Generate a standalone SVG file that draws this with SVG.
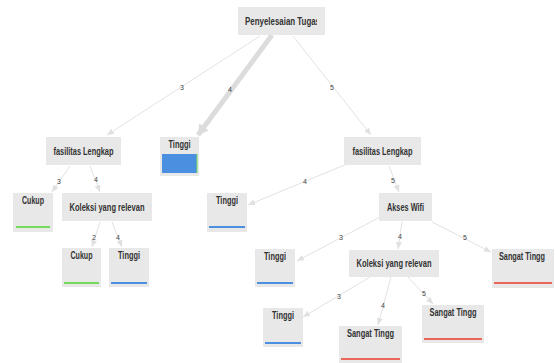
<svg xmlns="http://www.w3.org/2000/svg" width="555" height="363" viewBox="0 0 555 363">
<style>
.box{fill:#e8e8e8}
.t{font-family:"Liberation Sans",Arial,sans-serif;font-size:10px;font-weight:bold;fill:#333;text-anchor:middle}
.el{font-family:"Liberation Sans",Arial,sans-serif;font-size:7px;fill:#444;text-anchor:middle}
.e{stroke:#e2e2e2;stroke-width:1;fill:none}
.ethick{stroke:#dcdcdc;stroke-width:5;fill:none}
.g{stroke:#74dc5a;stroke-width:2}
.b{stroke:#4a8fe0;stroke-width:2}
.r{stroke:#e8665a;stroke-width:2}
</style>
<defs>
<marker id="ah" markerUnits="userSpaceOnUse" markerWidth="8" markerHeight="8" refX="7" refY="4" orient="auto">
<path d="M0,1 L7,4 L0,7 Z" fill="#e0e0e0"/>
</marker>
<marker id="ahT" markerUnits="userSpaceOnUse" markerWidth="12" markerHeight="12" refX="10" refY="6" orient="auto">
<path d="M0,0 L10,6 L0,12 Z" fill="#dcdcdc"/>
</marker>
<clipPath id="rootclip"><rect x="238" y="7" width="79" height="28"/></clipPath>
</defs>
<g id="connectors">
<line class="e" x1="260" y1="36" x2="107" y2="135" marker-end="url(#ah)"/>
<text class="el" x="182" y="90">3</text>
<line class="ethick" x1="272" y1="35" x2="198" y2="135" marker-end="url(#ahT)"/>
<text class="el" x="230" y="92">4</text>
<line class="e" x1="293" y1="36" x2="371" y2="135" marker-end="url(#ah)"/>
<text class="el" x="332" y="90">5</text>
<line class="e" x1="70" y1="166" x2="52" y2="192" marker-end="url(#ah)"/>
<text class="el" x="59" y="184">3</text>
<line class="e" x1="90" y1="166" x2="100" y2="192" marker-end="url(#ah)"/>
<text class="el" x="96" y="182">4</text>
<line class="e" x1="100" y1="222" x2="92" y2="247" marker-end="url(#ah)"/>
<text class="el" x="94" y="240">2</text>
<line class="e" x1="112" y1="222" x2="122" y2="247" marker-end="url(#ah)"/>
<text class="el" x="118" y="240">4</text>
<line class="e" x1="347" y1="164" x2="248" y2="205" marker-end="url(#ah)"/>
<text class="el" x="305" y="184">4</text>
<line class="e" x1="389" y1="166" x2="399" y2="192" marker-end="url(#ah)"/>
<text class="el" x="393" y="183">5</text>
<line class="e" x1="380" y1="217" x2="297" y2="261" marker-end="url(#ah)"/>
<text class="el" x="341" y="240">3</text>
<line class="e" x1="402" y1="222" x2="398" y2="249" marker-end="url(#ah)"/>
<text class="el" x="400" y="239">4</text>
<line class="e" x1="432" y1="222" x2="491" y2="252" marker-end="url(#ah)"/>
<text class="el" x="465" y="240">5</text>
<line class="e" x1="370" y1="277" x2="303" y2="317" marker-end="url(#ah)"/>
<text class="el" x="339" y="299">3</text>
<line class="e" x1="391" y1="277" x2="378" y2="325" marker-end="url(#ah)"/>
<text class="el" x="383" y="308">4</text>
<line class="e" x1="408" y1="277" x2="433" y2="304" marker-end="url(#ah)"/>
<text class="el" x="424" y="296">5</text>
</g>
<g id="root">
<rect class="box" x="238" y="7" width="87" height="28"/>
<text class="t" x="245" y="24.5" style="text-anchor:start" textLength="75" lengthAdjust="spacingAndGlyphs" clip-path="url(#rootclip)">Penyelesaian Tugas</text>
</g>
<g id="fasilitas-left">
<rect class="box" x="46" y="137" width="75" height="28"/>
<text class="t" x="83.5" y="154.5" textLength="60" lengthAdjust="spacingAndGlyphs">fasilitas Lengkap</text>
</g>
<g id="tinggi-big">
<rect class="box" x="160" y="137" width="39" height="39"/>
<text class="t" x="179.5" y="148" textLength="22" lengthAdjust="spacingAndGlyphs">Tinggi</text>
<rect x="162" y="154" width="35" height="19" fill="#4a8fe0"/>
<line x1="197" y1="154" x2="197" y2="173" stroke="#74dc5a" stroke-width="1"/>
</g>
<g id="fasilitas-right">
<rect class="box" x="344" y="137" width="77" height="28"/>
<text class="t" x="382.5" y="154.5" textLength="60" lengthAdjust="spacingAndGlyphs">fasilitas Lengkap</text>
</g>
<g id="cukup-1">
<rect class="box" x="13" y="193" width="40" height="39"/>
<text class="t" x="33" y="204" textLength="22" lengthAdjust="spacingAndGlyphs">Cukup</text>
<line class="g" x1="16" y1="227" x2="50" y2="227"/>
</g>
<g id="koleksi-left">
<rect class="box" x="62" y="193" width="90" height="28"/>
<text class="t" x="107" y="210.5" textLength="75" lengthAdjust="spacingAndGlyphs">Koleksi yang relevan</text>
</g>
<g id="cukup-2">
<rect class="box" x="62" y="248" width="39" height="39"/>
<text class="t" x="81.5" y="259" textLength="22" lengthAdjust="spacingAndGlyphs">Cukup</text>
<line class="g" x1="64" y1="283" x2="99" y2="283"/>
</g>
<g id="tinggi-2">
<rect class="box" x="109" y="248" width="40" height="39"/>
<text class="t" x="129" y="259" textLength="22" lengthAdjust="spacingAndGlyphs">Tinggi</text>
<line class="b" x1="111" y1="283" x2="147" y2="283"/>
</g>
<g id="tinggi-3">
<rect class="box" x="207" y="193" width="40" height="39"/>
<text class="t" x="227" y="204" textLength="22" lengthAdjust="spacingAndGlyphs">Tinggi</text>
<line class="b" x1="209" y1="227" x2="245" y2="227"/>
</g>
<g id="akses-wifi">
<rect class="box" x="379" y="193" width="53" height="28"/>
<text class="t" x="405.5" y="210.5" textLength="37" lengthAdjust="spacingAndGlyphs">Akses Wifi</text>
</g>
<g id="tinggi-4">
<rect class="box" x="255" y="249" width="40" height="38"/>
<text class="t" x="275" y="260" textLength="22" lengthAdjust="spacingAndGlyphs">Tinggi</text>
<line class="b" x1="257" y1="283" x2="293" y2="283"/>
</g>
<g id="koleksi-right">
<rect class="box" x="349" y="250" width="90" height="27"/>
<text class="t" x="394" y="267" textLength="75" lengthAdjust="spacingAndGlyphs">Koleksi yang relevan</text>
</g>
<g id="sangat-1">
<rect class="box" x="492" y="249" width="62" height="39"/>
<text class="t" x="522" y="260" textLength="46" lengthAdjust="spacingAndGlyphs">Sangat Tingg</text>
<line class="r" x1="494" y1="283" x2="552" y2="283"/>
</g>
<g id="tinggi-5">
<rect class="box" x="263" y="308" width="40" height="39"/>
<text class="t" x="283" y="319" textLength="22" lengthAdjust="spacingAndGlyphs">Tinggi</text>
<line class="b" x1="265" y1="343" x2="301" y2="343"/>
</g>
<g id="sangat-2">
<rect class="box" x="339" y="326" width="63" height="37"/>
<text class="t" x="370.5" y="337" textLength="47" lengthAdjust="spacingAndGlyphs">Sangat Tingg</text>
<line class="r" x1="341" y1="359" x2="400" y2="359"/>
</g>
<g id="sangat-3">
<rect class="box" x="422" y="305" width="62" height="38"/>
<text class="t" x="453" y="316" textLength="47" lengthAdjust="spacingAndGlyphs">Sangat Tingg</text>
<line class="r" x1="424" y1="339" x2="482" y2="339"/>
</g>
</svg>
